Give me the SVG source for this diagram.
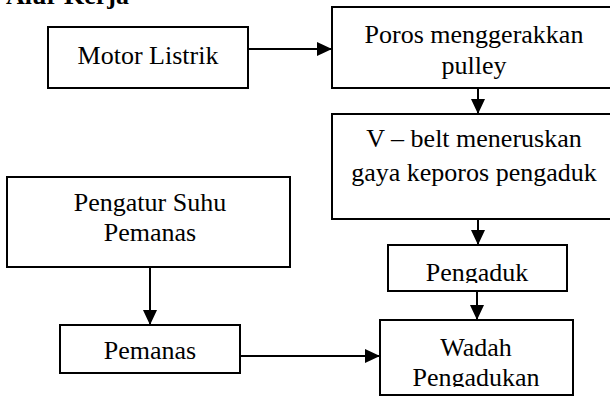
<svg xmlns="http://www.w3.org/2000/svg" width="610" height="397" viewBox="0 0 610 397">
<style>
.box{fill:#fff;stroke:#000;stroke-width:2}
.t{font-family:"Liberation Serif","Times New Roman",serif;font-size:26px;fill:#000;text-anchor:middle}
.h{font-family:"Liberation Serif","Times New Roman",serif;font-size:26px;font-weight:bold;fill:#000}
.c{stroke:#000;stroke-width:2;fill:none}
</style>
<defs>
<marker id="ah" markerUnits="userSpaceOnUse" markerWidth="16" markerHeight="14" refX="15" refY="7" orient="auto">
<path d="M0,0 L15,7 L0,14 z" fill="#000"/>
</marker>
<clipPath id="cp1"><rect x="388" y="245" width="180" height="38"/></clipPath>
<clipPath id="cp2"><rect x="380" y="320" width="194" height="67"/></clipPath>
</defs>
<rect width="610" height="397" fill="#fff"/>
<text class="h" x="6" y="4">Alur Kerja</text>
<g id="connectors">
<line class="c" x1="248" y1="49" x2="332" y2="49" marker-end="url(#ah)"/>
<line class="c" x1="478" y1="88" x2="478" y2="114" marker-end="url(#ah)"/>
<line class="c" x1="478" y1="219" x2="478" y2="245" marker-end="url(#ah)"/>
<line class="c" x1="477" y1="291" x2="477" y2="320" marker-end="url(#ah)"/>
<line class="c" x1="150" y1="267" x2="150" y2="325" marker-end="url(#ah)"/>
<line class="c" x1="240" y1="356" x2="380" y2="356" marker-end="url(#ah)"/>
</g>
<g id="motor">
<rect class="box" x="48" y="27" width="200" height="61"/>
<text class="t" x="148" y="64">Motor Listrik</text>
</g>
<g id="poros">
<rect class="box" x="332" y="7" width="292" height="81"/>
<text class="t" x="474" y="43">Poros menggerakkan</text>
<text class="t" x="474" y="74">pulley</text>
</g>
<g id="vbelt">
<rect class="box" x="332" y="114" width="292" height="105"/>
<text class="t" x="474" y="147">V – belt meneruskan</text>
<text class="t" x="474" y="181">gaya keporos pengaduk</text>
</g>
<g id="pengatur">
<rect class="box" x="7" y="177" width="283" height="90"/>
<text class="t" x="150" y="211">Pengatur Suhu</text>
<text class="t" x="150" y="241">Pemanas</text>
</g>
<g id="pengaduk">
<rect class="box" x="388" y="245" width="179" height="46"/>
<text class="t" x="477" y="281" clip-path="url(#cp1)">Pengaduk</text>
</g>
<g id="pemanas">
<rect class="box" x="60" y="325" width="180" height="48"/>
<text class="t" x="150" y="359">Pemanas</text>
</g>
<g id="wadah">
<rect class="box" x="380" y="320" width="193" height="75"/>
<text class="t" x="476" y="356" clip-path="url(#cp2)">Wadah</text>
<text class="t" x="476" y="386" clip-path="url(#cp2)">Pengadukan</text>
</g>
</svg>
